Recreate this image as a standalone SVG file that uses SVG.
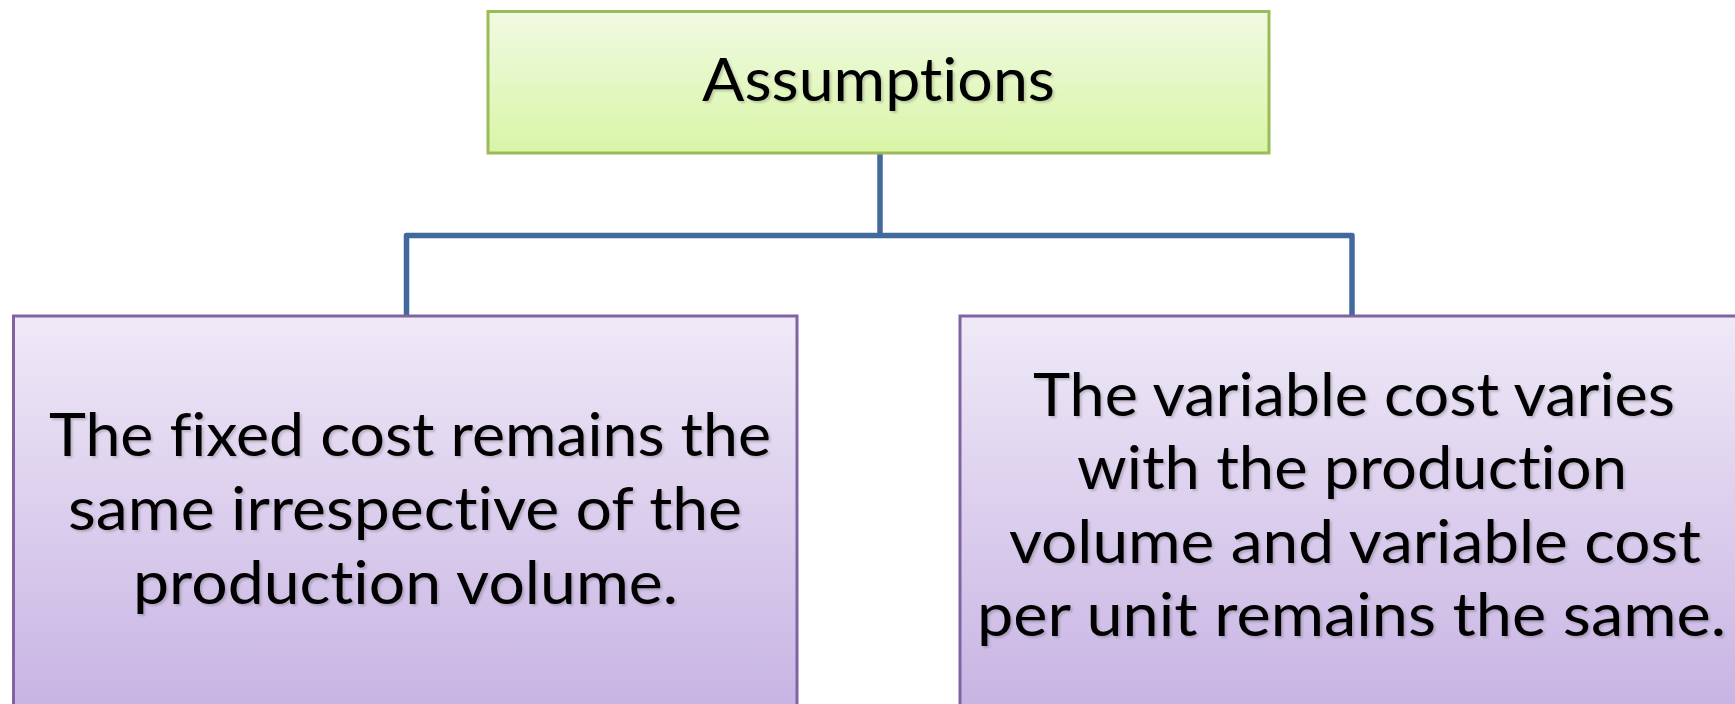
<svg xmlns="http://www.w3.org/2000/svg" width="1735" height="704" viewBox="0 0 1735 704">
  <defs>
    <linearGradient id="gGreen" x1="0" y1="0" x2="0" y2="1">
      <stop offset="0" stop-color="#f1fae3"/>
      <stop offset="1" stop-color="#d8f5a6"/>
    </linearGradient>
    <linearGradient id="gPurple" x1="0" y1="0" x2="0" y2="1">
      <stop offset="0" stop-color="#efe9f7"/>
      <stop offset="1" stop-color="#c7b3e3"/>
    </linearGradient>
    <filter id="shadow" x="-5%" y="-20%" width="110%" height="140%">
      <feDropShadow dx="2" dy="2" stdDeviation="0.8" flood-color="#000000" flood-opacity="0.18"/>
    </filter>
  </defs>
  <style>
    .green { fill: url(#gGreen); stroke: #9bbb59; stroke-width: 3; }
    .purple { fill: url(#gPurple); stroke: #8064a2; stroke-width: 3; }
    .conn { fill: none; stroke: #41699c; stroke-width: 5.5; stroke-linejoin: round; }
    .lbl { font-family: Lato, "Open Sans", sans-serif; font-size: 60px; fill: #000000; text-anchor: middle; font-variant-ligatures: none; font-feature-settings: "liga" 0, "dlig" 0; filter: url(#shadow); }
  </style>
  <rect width="1735" height="704" fill="#ffffff"/>

  <g id="connectors">
    <path class="conn" d="M880,153 V235.5"/>
    <path class="conn" d="M406.5,316 V235.5 H1352 V316"/>
  </g>

  <g id="node-assumptions">
    <rect class="green" x="488" y="11.5" width="781" height="141.5"/>
    <text class="lbl" x="878.5" y="101" textLength="353" lengthAdjust="spacingAndGlyphs">Assumptions</text>
  </g>

  <g id="node-fixed">
    <rect class="purple" x="13.5" y="316" width="783.5" height="400"/>
    <text class="lbl" x="410" y="456" textLength="722" lengthAdjust="spacingAndGlyphs">The fixed cost remains the</text>
    <text class="lbl" x="405" y="530" textLength="674" lengthAdjust="spacingAndGlyphs">same irrespective of the</text>
    <text class="lbl" x="405.5" y="604" textLength="545" lengthAdjust="spacingAndGlyphs">production volume.</text>
  </g>

  <g id="node-variable">
    <rect class="purple" x="960" y="316" width="784" height="400"/>
    <text class="lbl" x="1354" y="416" textLength="642" lengthAdjust="spacingAndGlyphs">The variable cost varies</text>
    <text class="lbl" x="1352" y="489" textLength="550" lengthAdjust="spacingAndGlyphs">with the production</text>
    <text class="lbl" x="1355" y="563" textLength="692" lengthAdjust="spacingAndGlyphs">volume and variable cost</text>
    <text class="lbl" x="1351.5" y="636" textLength="749" lengthAdjust="spacingAndGlyphs">per unit remains the same.</text>
  </g>
</svg>
